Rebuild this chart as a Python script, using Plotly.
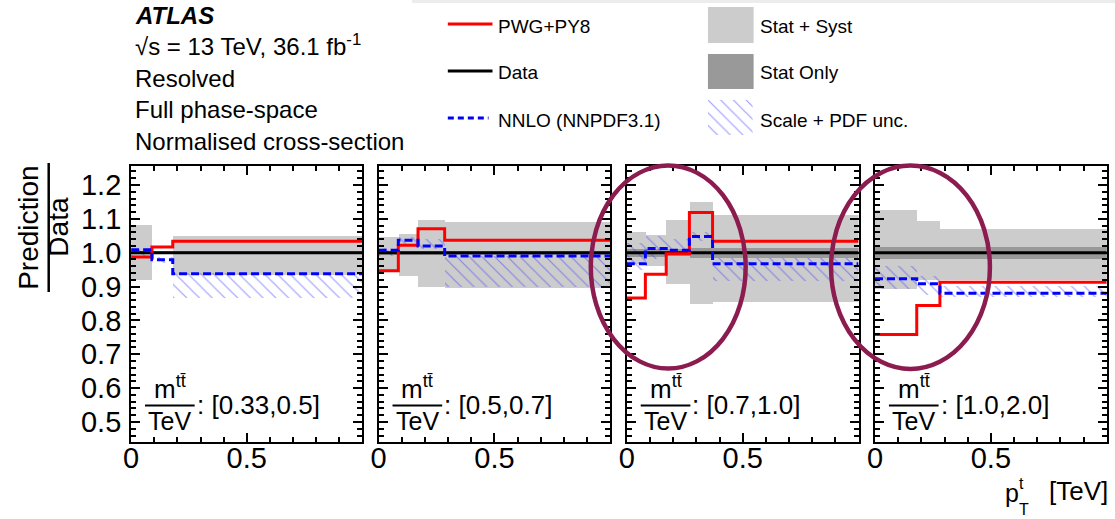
import plotly.graph_objects as go

W, H = 1115, 519

# ---------------- data ----------------
mass_labels = ["[0.33,0.5]", "[0.5,0.7]", "[0.7,1.0]", "[1.0,2.0]"]
edges = [
    [0.0, 0.09, 0.18, 1.0],
    [0.0, 0.085, 0.17, 0.285, 1.0],
    [0.0, 0.08, 0.17, 0.27, 0.37, 1.0],
    [0.0, 0.18, 0.28, 1.0],
]
pwg = [
    [0.987, 1.017, 1.034],
    [0.947, 1.022, 1.071, 1.037],
    [0.866, 0.936, 0.997, 1.119, 1.034],
    [0.758, 0.844, 0.913],
]
nnlo = [
    [1.009, 0.979, 0.938],
    [1.007, 1.037, 1.020, 0.990],
    [0.967, 1.012, 1.007, 1.048, 0.967],
    [0.923, 0.908, 0.880],
]
nnlo_lo = [
    [0.990, 0.970, 0.865],
    [0.990, 1.020, 1.010, 0.900],
    [0.950, 0.980, 0.995, 1.035, 0.915],
    [0.893, 0.876, 0.868],
]
nnlo_hi = [
    [1.012, 0.986, 0.940],
    [1.015, 1.045, 1.040, 0.990],
    [1.030, 1.050, 1.040, 1.060, 0.985],
    [0.962, 0.932, 0.903],
]
tot_lo = [
    [0.920, 0.995, 0.933],
    [0.942, 0.932, 0.898, 0.895],
    [0.967, 0.960, 0.908, 0.848, 0.855],
    [0.893, 0.918, 0.918],
]
tot_hi = [
    [1.081, 1.005, 1.048],
    [1.045, 1.056, 1.098, 1.091],
    [1.061, 1.051, 1.096, 1.150, 1.111],
    [1.126, 1.094, 1.071],
]
stat_unc = [
    [0.005, 0.005, 0.005],
    [0.006, 0.006, 0.006, 0.006],
    [0.012, 0.012, 0.010, 0.015, 0.015],
    [0.018, 0.018, 0.018],
]
data_ratio = 1.0
y_ticks = [0.5, 0.6, 0.7, 0.8, 0.9, 1.0, 1.1, 1.2]
x_ticks = [0, 0.5]

# ---------------- layout geometry (pixels) ----------------
panel_px = [(124, 357), (373.3, 606.7), (623.3, 856.7), (873.3, 1106.7)]
top_px, bot_px = 166, 442.3


def px(x):
    return x / W


def py(y):
    return 1 - y / H


FONT = "Liberation Sans, Arial, Helvetica, sans-serif"
HATCH = dict(shape="\\", fgcolor="#3c3cff", size=9, solidity=0.13)

fig = go.Figure()

for i in range(4):
    sfx = "" if i == 0 else str(i + 1)
    xa, ya = "x" + sfx, "y" + sfx
    e = edges[i]
    centers = [(e[k] + e[k + 1]) / 2 for k in range(len(e) - 1)]
    widths = [e[k + 1] - e[k] for k in range(len(e) - 1)]
    # stat+syst
    fig.add_trace(go.Bar(x=centers, width=widths, base=tot_lo[i],
                         y=[h - l for h, l in zip(tot_hi[i], tot_lo[i])],
                         marker=dict(color="#cccccc", line_width=0),
                         xaxis=xa, yaxis=ya, showlegend=False, hoverinfo="skip"))
    # stat only
    fig.add_trace(go.Bar(x=centers, width=widths,
                         base=[data_ratio - s for s in stat_unc[i]],
                         y=[2 * s for s in stat_unc[i]],
                         marker=dict(color="#999999", line_width=0),
                         xaxis=xa, yaxis=ya, showlegend=False, hoverinfo="skip"))
    # scale + pdf hatch
    fig.add_trace(go.Bar(x=centers, width=widths, base=nnlo_lo[i],
                         y=[h - l for h, l in zip(nnlo_hi[i], nnlo_lo[i])],
                         marker=dict(color="rgba(0,0,0,0)", line_width=0, pattern=HATCH),
                         xaxis=xa, yaxis=ya, showlegend=False, hoverinfo="skip"))
    # data line
    fig.add_trace(go.Scatter(x=e, y=[data_ratio] * len(e), mode="lines",
                             line=dict(color="black", width=3, shape="hv"),
                             xaxis=xa, yaxis=ya, showlegend=False, hoverinfo="skip"))
    # PWG+PY8
    fig.add_trace(go.Scatter(x=e, y=pwg[i] + [pwg[i][-1]], mode="lines",
                             line=dict(color="#ff0000", width=3, shape="hv"),
                             xaxis=xa, yaxis=ya, showlegend=False, hoverinfo="skip"))
    # NNLO
    fig.add_trace(go.Scatter(x=e, y=nnlo[i] + [nnlo[i][-1]], mode="lines",
                             line=dict(color="#0000ff", width=3, shape="hv", dash="8px,4px"),
                             xaxis=xa, yaxis=ya, showlegend=False, hoverinfo="skip"))

    x0, x1 = panel_px[i]
    xaxis = dict(domain=[px(x0), px(x1)], range=[0, 1.0], anchor=ya,
                 tickvals=x_ticks, ticktext=["0", "0.5"], ticks="inside", ticklen=9,
                 tickwidth=1.5, tickcolor="black",
                 minor=dict(dtick=0.1, tick0=0, ticks="inside", ticklen=5, tickwidth=1.5,
                            tickcolor="black"),
                 showline=True, linecolor="black", linewidth=2, mirror="allticks",
                 showgrid=False, zeroline=False, fixedrange=True,
                 tickfont=dict(family=FONT, size=29, color="black"),
                 ticklabelstandoff=-11)
    yaxis = dict(domain=[py(bot_px), py(top_px)], range=[0.44, 1.256], anchor=xa,
                 tickvals=y_ticks, ticktext=[f"{v:.1f}" for v in y_ticks],
                 showticklabels=(i == 0),
                 ticks="inside", ticklen=9, tickwidth=1.5, tickcolor="black",
                 minor=dict(dtick=0.02, tick0=0, ticks="inside", ticklen=5, tickwidth=1.5,
                            tickcolor="black"),
                 showline=True, linecolor="black", linewidth=2, mirror="allticks",
                 showgrid=False, zeroline=False, fixedrange=True,
                 tickfont=dict(family=FONT, size=29, color="black"),
                 ticklabelstandoff=2)
    fig.layout["xaxis" + sfx] = xaxis
    fig.layout["yaxis" + sfx] = yaxis

shapes = []
annotations = []


def txt(x, y, s, size, xanchor="left", yanchor="middle", angle=0, **kw):
    align = {"left": "left", "right": "right"}.get(xanchor, "center")
    annotations.append(dict(x=px(x), y=py(y), xref="paper", yref="paper", text=s,
                            showarrow=False, xanchor=xanchor, yanchor=yanchor,
                            textangle=angle, align=align, borderpad=0,
                            font=dict(family=FONT, size=size, color="black"), **kw))


# panel mass labels
for i in range(4):
    p0 = panel_px[i][0]
    shapes.append(dict(type="line", xref="paper", yref="paper",
                       x0=px(p0 + 14), x1=px(p0 + 64), y0=py(405.5), y1=py(405.5),
                       line=dict(color="black", width=2.2)))
    txt(p0 + 39, 405, "m<sup>tt\u0304</sup>", 26, xanchor="center", yanchor="bottom")
    txt(p0 + 39, 406, "TeV", 25, xanchor="center", yanchor="top")
    txt(p0 + 65, 405, ": " + mass_labels[i], 26)

# y-axis title as a fraction
shapes.append(dict(type="line", xref="paper", yref="paper", x0=px(41), x1=px(41),
                   y0=py(163), y1=py(292), line=dict(color="black", width=2.5)))
txt(20, 227, "Prediction", 28, xanchor="center", yanchor="middle", angle=-90)
txt(50, 227, "Data", 28, xanchor="center", yanchor="middle", angle=-90)

# x-axis title
txt(1019, 493, "p", 25, xanchor="right")
txt(1017, 483, "t", 16)
txt(1017, 509, "T", 16)
txt(1109, 491, "[TeV]", 26, xanchor="right")

# ATLAS header
HX = 127
txt(HX, 15, "<b><i>ATLAS</i></b>", 24)
txt(HX, 45, "\u221As = 13 TeV, 36.1 fb<sup>-1</sup>", 24)
txt(HX, 78, "Resolved", 24)
txt(HX, 109, "Full phase-space", 24)
txt(HX, 141, "Normalised cross-section", 24)

# legend (left column: lines)
shapes.append(dict(type="line", xref="paper", yref="paper", x0=px(443), x1=px(488),
                   y0=py(24), y1=py(24), line=dict(color="#ff0000", width=3)))
shapes.append(dict(type="line", xref="paper", yref="paper", x0=px(443), x1=px(488),
                   y0=py(71), y1=py(71), line=dict(color="black", width=3)))
shapes.append(dict(type="line", xref="paper", yref="paper", x0=px(443), x1=px(484),
                   y0=py(118), y1=py(118), line=dict(color="#0000ff", width=3, dash="6px,4px")))
LX, RX, LS = 493, 756, 19
txt(LX, 26, "PWG+PY8", LS)
txt(LX, 73, "Data", LS)
txt(LX, 120, "NNLO (NNPDF3.1)", LS)

# legend (right column: bands)
shapes.append(dict(type="rect", xref="paper", yref="paper", x0=px(705), x1=px(751),
                   y0=py(43), y1=py(7), fillcolor="#cccccc", line=dict(width=0)))
shapes.append(dict(type="rect", xref="paper", yref="paper", x0=px(705), x1=px(751),
                   y0=py(89), y1=py(54), fillcolor="#999999", line=dict(width=0)))
txt(RX, 26, "Stat + Syst", LS)
txt(RX, 73, "Stat Only", LS)
txt(RX, 120, "Scale + PDF unc.", LS)

# hatch legend key: a patterned bar on its own hidden axes
fig.add_trace(go.Bar(x=[0.5], y=[1], base=[0], width=[1],
                     marker=dict(color="rgba(0,0,0,0)", line_width=0, pattern=HATCH),
                     xaxis="x5", yaxis="y5", showlegend=False, hoverinfo="skip"))
fig.layout["xaxis5"] = dict(domain=[px(705), px(750)], range=[0, 1], visible=False,
                            anchor="y5", fixedrange=True)
fig.layout["yaxis5"] = dict(domain=[py(135), py(100)], range=[0, 1], visible=False,
                            anchor="x5", fixedrange=True)

# ellipses highlighting
for (ex0, ex1, ey0, ey1) in [(587, 743, 165.5, 368.5), (829, 989, 165.5, 369)]:
    shapes.append(dict(type="circle", xref="paper", yref="paper",
                       x0=px(ex0), x1=px(ex1), y0=py(ey1), y1=py(ey0),
                       line=dict(color="#8c1c50", width=4.5), layer="above"))

# faint page shadow at top
shapes.append(dict(type="rect", xref="paper", yref="paper", x0=px(407), x1=1,
                   y0=py(3), y1=1, fillcolor="#ececec", line=dict(width=0), layer="below"))

fig.update_layout(width=W, height=H, margin=dict(l=0, r=0, t=0, b=0),
                  paper_bgcolor="white", plot_bgcolor="rgba(0,0,0,0)",
                  barmode="overlay", bargap=0, showlegend=False,
                  shapes=shapes, annotations=annotations)

fig.write_html("out.html")
